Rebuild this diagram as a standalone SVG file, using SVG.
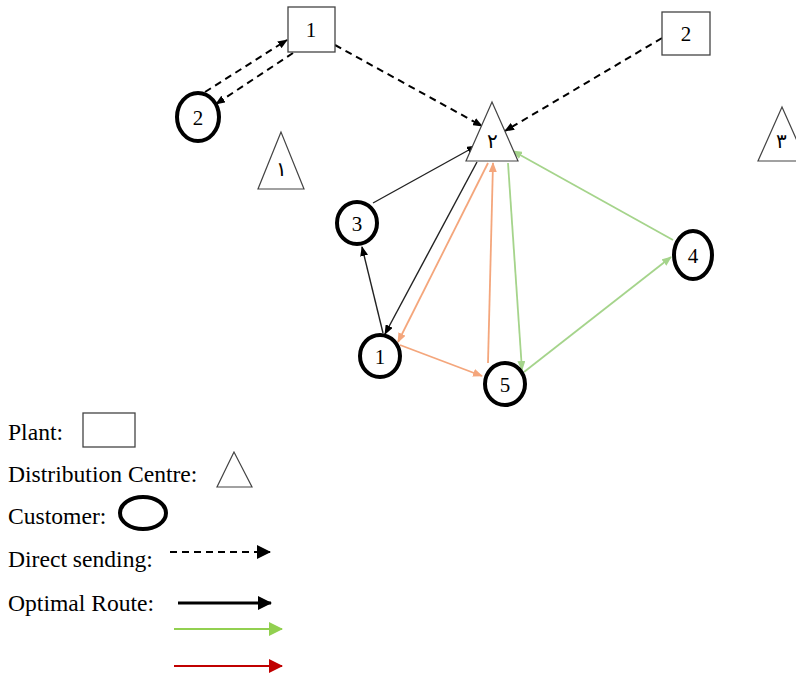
<svg xmlns="http://www.w3.org/2000/svg" width="796" height="674" viewBox="0 0 796 674">
<style>
text{font-family:"Liberation Serif","Times New Roman",serif;fill:#000}
.lab{font-size:21px;text-anchor:middle}
.ar{font-size:20px;text-anchor:middle}
.leg{font-size:23.6px}
.plant{fill:#fff;stroke:#444;stroke-width:1.3}
.dc{fill:#fff;stroke:#444;stroke-width:1.2}
.cust{fill:#fff;stroke:#000;stroke-width:4}
.dash{stroke:#000;stroke-width:2;stroke-dasharray:7,5;fill:none}
.blk{stroke:#222;stroke-width:1.4;fill:none}
.org{stroke:#f4a67c;stroke-width:1.8;fill:none}
.grn{stroke:#a5d48b;stroke-width:1.8;fill:none}
</style>
<defs>
<marker id="ab" markerWidth="10" markerHeight="8" refX="9" refY="4" orient="auto" markerUnits="userSpaceOnUse"><path d="M0,0 L10,4 L0,8 Z" fill="#000"/></marker>
<marker id="ao" markerWidth="10" markerHeight="8" refX="9" refY="4" orient="auto" markerUnits="userSpaceOnUse"><path d="M0,0 L10,4 L0,8 Z" fill="#f4a67c"/></marker>
<marker id="ag" markerWidth="10" markerHeight="8" refX="9" refY="4" orient="auto" markerUnits="userSpaceOnUse"><path d="M0,0 L10,4 L0,8 Z" fill="#a5d48b"/></marker>
<marker id="agl" markerWidth="14" markerHeight="14" refX="13" refY="7" orient="auto" markerUnits="userSpaceOnUse"><path d="M0,0 L14,7 L0,14 Z" fill="#92d050"/></marker>
<marker id="arl" markerWidth="14" markerHeight="14" refX="13" refY="7" orient="auto" markerUnits="userSpaceOnUse"><path d="M0,0 L14,7 L0,14 Z" fill="#c00000"/></marker>
<marker id="abl" markerWidth="14" markerHeight="14" refX="13" refY="7" orient="auto" markerUnits="userSpaceOnUse"><path d="M0,0 L14,7 L0,14 Z" fill="#000"/></marker>
</defs>

<g id="connectors">
<line class="dash" x1="205" y1="92" x2="287" y2="40" marker-end="url(#ab)"/>
<line class="dash" x1="293" y1="53" x2="216" y2="104" marker-end="url(#ab)"/>
<line class="dash" x1="335" y1="45" x2="482" y2="126" marker-end="url(#ab)"/>
<line class="dash" x1="662" y1="38" x2="505" y2="131" marker-end="url(#ab)"/>
<line class="blk" x1="373" y1="203" x2="476" y2="146" marker-end="url(#ab)"/>
<line class="blk" x1="477" y1="162" x2="385" y2="334" marker-end="url(#ab)"/>
<line class="blk" x1="383" y1="333" x2="362" y2="247" marker-end="url(#ab)"/>
<line class="org" x1="488" y1="163" x2="398" y2="342" marker-end="url(#ao)"/>
<line class="org" x1="400" y1="345" x2="482" y2="376" marker-end="url(#ao)"/>
<line class="org" x1="488" y1="363" x2="493" y2="163" marker-end="url(#ao)"/>
<line class="grn" x1="508" y1="163" x2="522" y2="370" marker-end="url(#ag)"/>
<line class="grn" x1="524" y1="372" x2="671" y2="257" marker-end="url(#ag)"/>
<line class="grn" x1="673" y1="240" x2="513" y2="151" marker-end="url(#ag)"/>
</g>

<g id="plant1"><rect class="plant" x="288" y="7" width="47" height="45"/><text class="lab" x="311" y="37">1</text></g>
<g id="plant2"><rect class="plant" x="662" y="12" width="48" height="43"/><text class="lab" x="686" y="41">2</text></g>

<g id="dc1"><polygon class="dc" points="281,132 258,189 304,189"/><text class="ar" x="281" y="176">١</text></g>
<g id="dc2"><polygon class="dc" points="492,102 466,161 518,161"/><text class="ar" x="492" y="148">٢</text></g>
<g id="dc3"><polygon class="dc" points="782,107 758,161 806,161"/><text class="ar" x="781" y="148">٣</text></g>

<g id="cust2"><ellipse class="cust" cx="198" cy="117" rx="21" ry="24"/><text class="lab" x="198" y="125">2</text></g>
<g id="cust3"><ellipse class="cust" cx="357" cy="223" rx="20" ry="21"/><text class="lab" x="357" y="231">3</text></g>
<g id="cust1"><ellipse class="cust" cx="380" cy="356" rx="20" ry="21"/><text class="lab" x="380" y="364">1</text></g>
<g id="cust5"><ellipse class="cust" cx="505" cy="384" rx="20" ry="21"/><text class="lab" x="505" y="392">5</text></g>
<g id="cust4"><ellipse class="cust" cx="693" cy="255" rx="19" ry="24"/><text class="lab" x="693" y="263">4</text></g>

<g id="legend">
<text class="leg" x="8" y="440">Plant:</text>
<rect class="plant" x="83" y="413" width="52" height="34"/>
<text class="leg" x="8" y="482">Distribution Centre:</text>
<polygon class="dc" points="234,452 217,487 252,487"/>
<text class="leg" x="8" y="524">Customer:</text>
<ellipse class="cust" cx="143" cy="513" rx="23" ry="16" stroke-width="3.5"/>
<text class="leg" x="8" y="567">Direct sending:</text>
<line class="dash" x1="170" y1="552" x2="270" y2="552" stroke-width="2.5" marker-end="url(#abl)"/>
<text class="leg" x="8" y="611">Optimal Route:</text>
<line x1="178" y1="603" x2="271" y2="603" stroke="#000" stroke-width="3" marker-end="url(#abl)"/>
<line x1="174" y1="629" x2="282" y2="629" stroke="#92d050" stroke-width="2" marker-end="url(#agl)"/>
<line x1="174" y1="666" x2="282" y2="666" stroke="#c00000" stroke-width="2" marker-end="url(#arl)"/>
</g>
</svg>
